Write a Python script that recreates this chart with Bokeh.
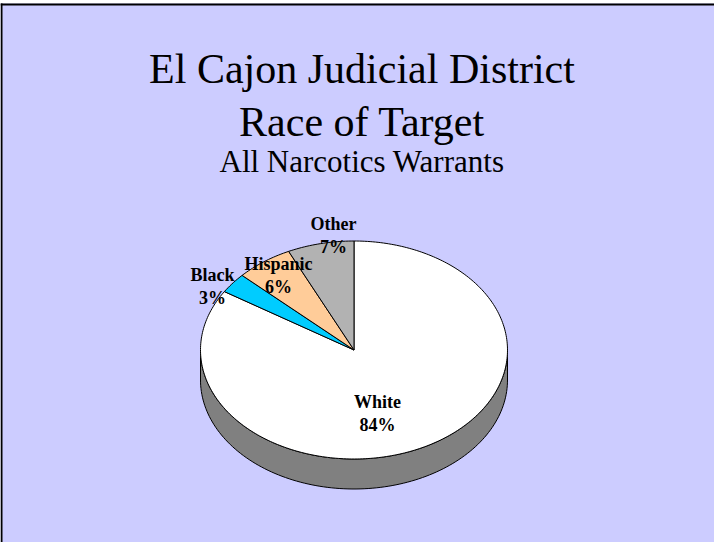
import numpy as np
from bokeh.plotting import figure
from bokeh.models import Range1d, ColumnDataSource
from bokeh.core.properties import value
from bokeh.embed import file_html
from bokeh.resources import INLINE

# ---- data ----
categories = ["White", "Black", "Hispanic", "Other"]
percents = [84, 3, 6, 7]
slice_colors = ["#FFFFFF", "#00CCFF", "#FFCC99", "#B2B2B2"]

title_lines = ["El Cajon Judicial District", "Race of Target", "All Narcotics Warrants"]

# ---- layout (page pixel coordinates, y downward) ----
CX, CY, RX, RY, DEPTH = 361.5, 357.5, 153.5, 109.0, 30.0
label_xy = {"White": (385, 409), "Black": (220, 282), "Hispanic": (286, 271.5), "Other": (341, 231.5)}
LINE_GAP = 23.3

p = figure(width=714, height=542, output_backend="svg", toolbar_location=None,
           x_range=Range1d(8, 722), y_range=Range1d(550, 8),
           min_border=0, min_border_left=0, min_border_right=0,
           min_border_top=0, min_border_bottom=0)
p.axis.visible = False
p.xaxis.visible = False
p.yaxis.visible = False
p.grid.visible = False
p.outline_line_color = None
p.background_fill_color = "#FFFFFF"
p.border_fill_color = "#FFFFFF"

# slide background with top/left border
p.quad(left=[8], right=[730], top=[11], bottom=[560], fill_color="#CCCCFF", line_color=None)
p.line(x=[8, 730], y=[12, 12], line_color="black", line_width=2)
p.line(x=[9, 9], y=[11, 560], line_color="black", line_width=2)

# titles
p.text(x=[369.5], y=[76], text=[title_lines[0]], text_font=value("Liberation Serif"),
       text_font_size="42px", text_align="center", text_baseline="alphabetic", text_color="black")
p.text(x=[369.5], y=[129.3], text=[title_lines[1]], text_font=value("Liberation Serif"),
       text_font_size="42px", text_align="center", text_baseline="alphabetic", text_color="black")
p.text(x=[369.5], y=[169.3], text=[title_lines[2]], text_font=value("Liberation Serif"),
       text_font_size="31px", text_align="center", text_baseline="alphabetic", text_color="black")

# pie geometry from values
vals = np.array(percents, dtype=float)
fr = vals / vals.sum()
ends = np.cumsum(fr) * 2 * np.pi
starts = ends - fr * 2 * np.pi

def ex(t):
    return CX + RX * np.sin(t)

def ey(t):
    return CY - RY * np.cos(t)

# 3D side (front half of the pie, visible from 90deg to 270deg clockwise from top)
side_x, side_y, side_col = [], [], []
for s, e, c in zip(starts, ends, slice_colors):
    a0 = max(s, np.pi / 2)
    a1 = min(e, 3 * np.pi / 2)
    if a1 > a0:
        t = np.linspace(a0, a1, 120)
        xs = list(ex(t)) + list(ex(t[::-1]))
        ys = list(ey(t)) + list(ey(t[::-1]) + DEPTH)
        side_x.append(xs)
        side_y.append(ys)
        side_col.append("#808080")
p.patches(xs=side_x, ys=side_y, fill_color=side_col, line_color="black", line_width=1)

# top slices
px, py = [], []
for s, e in zip(starts, ends):
    n = max(int((e - s) / (2 * np.pi) * 360), 4)
    t = np.linspace(s, e, n)
    px.append([CX] + list(ex(t)) + [CX])
    py.append([CY] + list(ey(t)) + [CY])
src = ColumnDataSource(dict(xs=px, ys=py, color=slice_colors, cat=categories))
p.patches(xs="xs", ys="ys", fill_color="color", line_color="black", line_width=1, source=src)

# labels
lx = [label_xy[c][0] for c in categories]
ly = [label_xy[c][1] for c in categories]
pct_txt = [f"{v}%" for v in percents]
p.text(x=lx, y=ly, text=categories, text_font=value("Liberation Serif"), text_font_style="bold",
       text_font_size="18px", text_align="center", text_baseline="alphabetic", text_color="black")
p.text(x=lx, y=[v + LINE_GAP for v in ly], text=pct_txt, text_font=value("Liberation Serif"),
       text_font_style="bold", text_font_size="18px", text_align="center",
       text_baseline="alphabetic", text_color="black")

open("out.html", "w").write(file_html(p, INLINE))
